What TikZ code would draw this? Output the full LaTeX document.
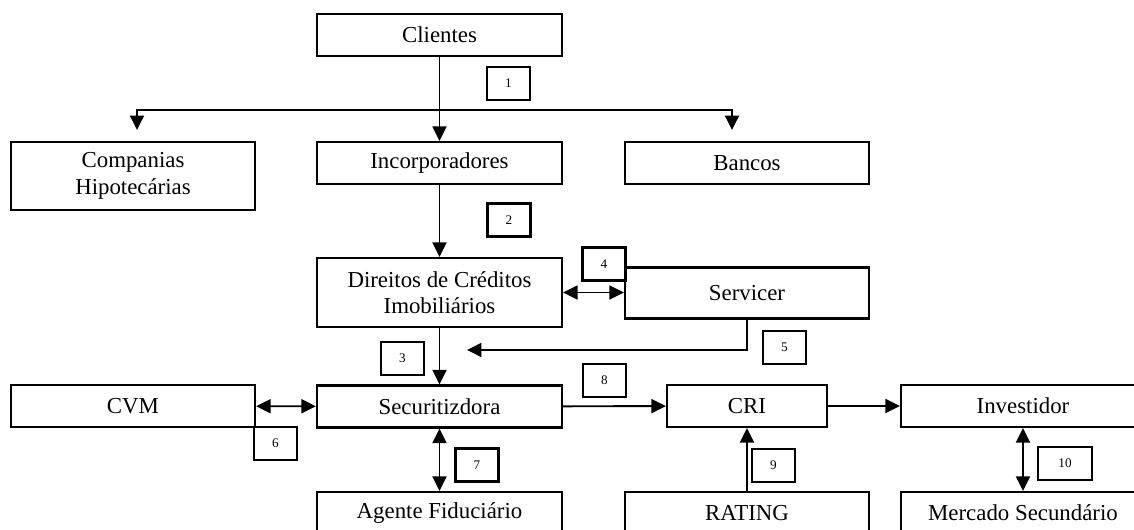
\documentclass[tikz,border=0pt]{standalone}
\usepackage{fontspec}
\setmainfont{Liberation Serif}
\usetikzlibrary{arrows.meta}

\begin{document}
\begin{tikzpicture}[x=0.02cm, y=-0.02cm, line width=1.1pt,
    caixa/.style={rectangle, draw, line width=1.3pt, align=center, inner sep=2pt,
        minimum width=4.9cm, minimum height=0.84cm, font=\fontsize{13}{15}\selectfont},
    numbox/.style={rectangle, draw, line width=1.2pt, inner sep=0pt,
        minimum width=0.86cm, minimum height=0.66cm, font=\fontsize{7.5}{9}\selectfont},
    seta/.style={-{Triangle[length=0.29cm, width=0.28cm]}},
    seta2/.style={{Triangle[length=0.29cm, width=0.28cm]}-{Triangle[length=0.29cm, width=0.28cm]}}]
    \path[use as bounding box, clip] (0,0) rectangle (1134,530);

    % caixas
    \node[caixa] (clientes) at (439.5, 35) {Clientes};
    \node[caixa] (incorp) at (439.5, 163) {Incorporadores};
    \node[caixa, minimum width=4.88cm, minimum height=1.36cm] (companias) at (133, 176) {Companias\\Hipotecárias};
    \node[caixa, minimum width=4.88cm] (bancos) at (747, 163) {Bancos};
    \node[caixa, minimum height=1.38cm] (direitos) at (439.5, 292.5) {Direitos de Créditos\\Imobiliários};
    \node[caixa, minimum width=4.88cm, minimum height=1.02cm] (servicer) at (747, 293) {Servicer};
    \node[caixa, minimum width=4.88cm] (cvm) at (133, 406) {CVM};
    \node[caixa] (securit) at (439.5, 406.5) {Securitizdora};
    \node[caixa, minimum width=3.2cm] (cri) at (747, 406) {CRI};
    \node[caixa, minimum width=4.88cm] (investidor) at (1023, 406) {Investidor};
    \node[caixa] (agente) at (439.5, 513) {Agente Fiduciário};
    \node[caixa, minimum width=4.88cm] (rating) at (747, 513) {RATING};
    \node[caixa, minimum width=4.88cm] (mercado) at (1023, 513) {Mercado Secundário};

    % numeros
    \node[numbox] (n1) at (508.5, 83.5) {1};
    \node[numbox] (n2) at (509, 220) {2};
    \node[numbox] (n3) at (402.5, 358.5) {3};
    \node[numbox] (n4) at (604, 264) {4};
    \node[numbox] (n5) at (784.5, 347.5) {5};
    \node[numbox] (n6) at (275.5, 443.5) {6};
    \node[numbox] (n7) at (477, 465) {7};
    \node[numbox] (n8) at (604.5, 380.5) {8};
    \node[numbox] (n9) at (773.5, 465.5) {9};
    \node[numbox, minimum width=1.08cm] (n10) at (1065, 463.5) {10};

    % pontos livres
    \coordinate (ramo) at (439.5, 110);
    \coordinate (ciaPonta) at (137, 130);
    \coordinate (banPonta) at (732, 130);
    \coordinate (serPonta) at (467, 350);

    % ligacoes
    \draw[seta] (clientes) -- (incorp);
    \draw[seta] (ramo) -| (ciaPonta);
    \draw[seta] (ramo) -| (banPonta);
    \draw[seta] (incorp) -- (direitos);
    \draw[seta2] (direitos.east) -- (direitos.east -| servicer.west);
    \draw[seta] (servicer.south) |- (serPonta);
    \draw[seta] (direitos) -- (securit);
    \draw[seta2] (cvm) -- (securit);
    \draw[seta2] (securit) -- (agente);
    \draw[seta] (securit) -- (cri);
    \draw[seta] (cri) -- (investidor);
    \draw[seta] (rating) -- (cri);
    \draw[seta2] (investidor) -- (mercado);
\end{tikzpicture}
\end{document}
